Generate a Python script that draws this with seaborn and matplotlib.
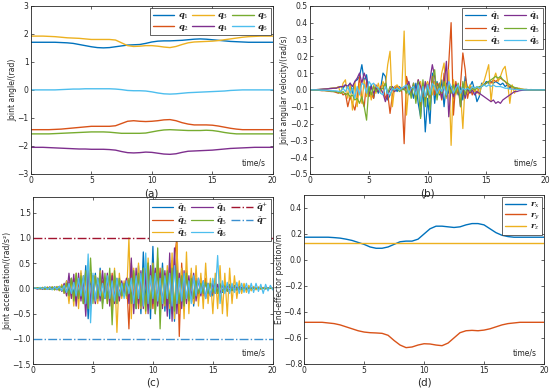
import numpy as np
import matplotlib
matplotlib.use('Agg')
import matplotlib.pyplot as plt
import seaborn as sns

# time axes
t_pos = np.arange(0, 20.01, 0.5)    # 41 samples, smooth curves
t_dyn = np.arange(0, 20.01, 0.2)    # 101 samples, velocity / acceleration

# (a) joint angles
q1 = [1.70,1.70,1.70,1.70,1.70,1.69,1.68, 1.66,1.62,1.58,1.54,1.51,1.50, 1.51,1.54,1.57,1.60,1.61,1.62,
      1.66,1.71,1.74,1.75,1.75,1.76, 1.77,1.79,1.81,1.82,1.81,1.79, 1.77,1.75,1.73,1.72,1.71, 1.70,1.70,1.70,1.70,1.70]
q2 = [-1.42,-1.42,-1.42,-1.42,-1.41,-1.40,-1.38, -1.36,-1.34,-1.32,-1.30,-1.30,-1.30, -1.30,-1.28,-1.20,-1.12,-1.10,-1.12,
      -1.13,-1.12,-1.10,-1.07,-1.06,-1.10, -1.17,-1.22,-1.25,-1.25,-1.25,-1.26, -1.29,-1.33,-1.37,-1.40,-1.42, -1.42,-1.42,-1.42,-1.42,-1.42]
q3 = [1.92,1.92,1.92,1.91,1.90,1.88,1.86, 1.85,1.84,1.82,1.80,1.80,1.80, 1.80,1.78,1.68,1.58,1.55,1.56,
      1.58,1.58,1.56,1.53,1.51,1.55, 1.62,1.68,1.71,1.72,1.73,1.74, 1.76,1.79,1.82,1.85,1.88, 1.90,1.91,1.92,1.92,1.92]
q4 = [-2.05,-2.05,-2.05,-2.06,-2.07,-2.08,-2.09, -2.10,-2.11,-2.11,-2.12,-2.12,-2.12, -2.13,-2.15,-2.20,-2.24,-2.25,-2.24,
      -2.22,-2.23,-2.26,-2.29,-2.30,-2.28, -2.23,-2.19,-2.18,-2.17,-2.16,-2.15, -2.13,-2.11,-2.09,-2.08,-2.07, -2.06,-2.05,-2.05,-2.05,-2.05]
q5 = [-1.57,-1.57,-1.57,-1.57,-1.56,-1.55,-1.54, -1.53,-1.52,-1.51,-1.50,-1.50,-1.50, -1.51,-1.53,-1.55,-1.55,-1.55,-1.55,
      -1.54,-1.50,-1.46,-1.43,-1.42,-1.43, -1.44,-1.45,-1.45,-1.45,-1.44,-1.45, -1.48,-1.52,-1.55,-1.57,-1.57, -1.57,-1.57,-1.57,-1.57,-1.57]
q6 = [0,0,0,0,0,0.01,0.02, 0.03,0.03,0.04,0.04,0.04,0.04, 0.04,0.03,0.01,-0.02,-0.03,-0.03,
      -0.04,-0.07,-0.11,-0.14,-0.15,-0.14, -0.12,-0.10,-0.09,-0.08,-0.07,-0.06, -0.05,-0.04,-0.02,-0.01,0.0, 0,0,0,0,0]

# (b) joint angular velocities
dq1 = [0, 0,0,0,0.002,0.003,0.005,0.005,0.008,0.01,0.01,
       0.012,0.015,0.02,0.01,0.03,0.02,0.04,-0.02,0.05,0.06,
       0.08,0.15,0.05,0.09,-0.02,0.03,-0.05,0.02,-0.02,0.01,
       0.1,0.08,-0.06,-0.03,0.0,0.02,-0.01,0.02,0.0,0.01,
       0.02,-0.03,0.01,-0.05,0.04,-0.08,-0.16,0.02,-0.25,-0.05,
       -0.2,0.1,-0.08,0.05,-0.03,0.06,-0.1,0.04,-0.02,0.02,
       -0.05,0.03,-0.03,0.02,-0.06,0.08,0.01,0.02,0.05,0.0,
       -0.07,-0.04,0.04,0.03,0.05,0.04,0.05,0.04,0.05,0.04,
       0.03,0.04,0.02,0.03,0.01,0.02,0.005,0.01,0.005,0.003,
       0.002,0.003,0.001,0.002,0.001,0.0,0.001,0.0,0.0,0.0]
dq2 = [0, 0,0,-0.002,-0.003,-0.005,-0.004,-0.006,-0.008,-0.01,-0.01,
       -0.015,-0.02,-0.01,-0.03,-0.02,-0.1,-0.04,-0.08,-0.12,-0.05,
       0.08,-0.06,-0.1,0.05,-0.04,-0.02,-0.05,0.03,-0.01,0.02,
       0.03,-0.05,-0.02,-0.14,-0.03,0.01,0.02,0.01,-0.01,-0.32,
       0.08,0.02,-0.02,0.03,-0.05,0.06,-0.1,0.04,-0.06,0.03,
       -0.05,0.08,-0.03,0.04,0.02,-0.06,0.1,-0.04,0.16,0.4,
       -0.15,0.05,-0.02,0.03,0.22,0.12,-0.05,0.02,-0.03,0.01,
       -0.02,0.01,0.02,0.03,0.04,0.05,0.04,0.06,0.05,0.06,
       0.07,0.06,0.05,0.03,0.02,0.02,0.01,0.01,0.005,0.003,
       0.002,0.001,0.001,0,0,0,0,0,0,0]
dq3 = [0, 0,0,0.002,0.003,0.004,0.005,0.006,0.008,0.01,0.012,
       0.01,0.02,-0.02,0.04,0.06,-0.05,0.03,-0.12,0.05,-0.1,
       0.04,-0.08,0.06,-0.04,0.02,-0.06,0.03,-0.02,0.04,-0.02,
       0.05,0.02,0.15,0.23,-0.1,0.02,0.03,0.01,0.0,0.35,
       -0.15,0.03,0.01,0.02,-0.03,0.02,0.05,-0.04,0.02,0.05,
       0.0,-0.03,0.05,0.02,-0.02,0.1,0.16,-0.05,0.12,-0.33,
       0.06,-0.03,0.02,-0.02,-0.23,0.05,-0.02,0.03,0.01,-0.01,
       0.02,-0.03,0.03,0.05,0.1,0.15,-0.07,0.06,0.1,0.05,
       0.08,0.12,0.14,0.05,-0.08,0.03,-0.02,0.01,0.01,0.005,
       0.003,0.002,0.001,0,0,0,0,0,0,0]
dq4 = [0, 0,0.001,0.002,0.003,0.004,0.005,0.006,0.007,0.008,0.01,
       0.01,0.015,0.02,0.02,0.03,0.02,0.04,0.02,0.05,0.07,
       0.1,0.04,0.1,0.06,-0.03,0.02,-0.02,0.01,-0.01,0.01,
       -0.02,-0.07,-0.03,0.0,0.02,-0.01,0.01,0.0,0.01,0.0,
       0.02,0.05,-0.02,0.04,-0.03,0.06,0.02,-0.04,0.05,-0.03,
       0.06,0.15,0.08,-0.03,0.04,-0.05,0.03,0.17,-0.16,0.02,
       -0.04,0.03,0.02,-0.1,0.02,-0.05,0.01,-0.02,0.0,-0.03,
       -0.01,-0.02,-0.03,-0.04,-0.05,-0.06,-0.07,-0.06,-0.08,-0.07,
       -0.08,-0.06,-0.05,-0.04,-0.03,-0.02,-0.01,-0.01,-0.005,-0.003,
       -0.002,-0.001,0,0,0,0,0,0,0,0]
dq5 = [0, 0,-0.001,-0.001,-0.002,-0.003,-0.004,-0.005,-0.006,-0.008,-0.01,
       -0.01,-0.015,-0.02,-0.01,-0.03,-0.02,-0.04,-0.03,-0.06,-0.05,
       -0.08,-0.04,-0.1,-0.18,0.02,-0.03,0.02,-0.01,0.01,0.0,
       0.01,0.04,-0.02,0.02,0.01,0.0,0.01,-0.01,0.0,0.01,
       -0.02,0.03,-0.05,0.04,-0.08,0.05,-0.17,0.06,-0.1,0.03,
       -0.12,0.05,0.12,-0.06,0.04,-0.02,0.05,-0.04,0.03,-0.02,
       0.03,-0.02,0.04,-0.1,0.05,-0.03,0.02,-0.01,0.01,0.0,
       0.01,0.02,0.02,0.03,0.04,0.05,0.06,0.07,0.08,0.07,
       0.08,0.06,0.05,0.04,0.03,0.02,0.015,0.01,0.005,0.003,
       0.002,0.001,0,0,0,0,0,0,0,0]
dq6 = [0, 0,0,0,-0.001,-0.002,-0.002,-0.003,-0.004,-0.005,-0.005,
       -0.006,-0.008,-0.01,0.01,-0.01,0.02,-0.02,0.01,-0.05,0.02,
       -0.03,0.04,0.03,-0.02,0.05,0.03,0.04,0.02,0.01,-0.02,
       -0.03,0.02,-0.02,-0.03,0.01,0.0,0.01,0.0,0.01,0.02,
       0.03,-0.02,0.01,0.02,-0.03,0.03,-0.07,0.02,-0.04,0.03,
       -0.03,0.04,0.02,-0.02,0.01,-0.01,0.02,-0.03,0.05,0.02,
       -0.02,0.01,0.03,-0.02,0.01,0.0,0.01,0.0,0.02,0.01,
       0.02,0.01,0.02,0.03,0.02,0.03,0.02,0.03,0.02,0.02,
       0.02,0.015,0.01,0.01,0.005,0.005,0.003,0.002,0.001,0.001,
       0,0,0,0,0,0,0,0,0,0]

# (c) joint accelerations
ddq1 = [0, 0,0.01,-0.01,0.02,-0.01,0.01,-0.02,0.02,-0.01,0.02,
        -0.03,0.05,-0.1,0.15,-0.1,0.2,-0.15,0.25,-0.2,0.3,
        -0.3,0.45,-0.6,0.2,-0.1,0.3,-0.25,0.4,-0.3,0.2,
        -0.2,0.3,-0.4,0.25,-0.3,0.2,-0.15,0.1,-0.1,0.15,
        -0.2,0.3,-0.4,0.45,-0.5,0.72,-0.3,0.5,-0.6,0.83,
        -0.5,0.4,-0.3,0.5,-0.45,0.3,-0.6,0.55,-0.65,0.6,
        -0.5,0.4,-0.3,0.35,-0.2,0.3,-0.35,0.2,-0.15,0.2,
        -0.1,0.15,-0.2,0.1,-0.15,0.2,-0.1,0.1,-0.08,0.1,
        -0.06,0.08,-0.05,0.06,-0.04,0.05,-0.03,0.04,-0.03,0.02,
        -0.02,0.02,-0.01,0.02,-0.01,0.01,-0.01,0.01,0,0]
ddq2 = [0, 0,-0.01,0.01,-0.01,0.02,-0.01,0.02,-0.02,0.03,-0.02,
        0.04,-0.05,0.08,-0.1,0.12,-0.15,0.2,-0.25,0.15,-0.2,
        0.25,-0.2,0.3,-0.35,0.25,-0.3,0.2,-0.15,0.15,-0.2,
        0.2,-0.25,0.3,-0.2,0.15,-0.1,0.1,-0.15,0.2,-0.8,
        0.5,-0.3,0.25,-0.4,0.3,-0.35,0.4,-0.3,0.3,-0.4,
        0.35,-0.3,0.4,-0.35,0.3,-0.4,0.5,-0.5,0.6,1.0,
        -0.95,0.5,-0.4,0.35,-0.3,0.25,-0.3,0.2,-0.2,0.15,
        -0.15,0.2,-0.15,0.1,-0.1,0.15,-0.1,0.08,-0.06,0.05,
        -0.05,0.04,-0.04,0.03,-0.03,0.02,-0.02,0.02,-0.01,0.01,
        -0.01,0.01,0,0,0,0,0,0,0,0]
ddq3 = [0, 0,0.01,-0.01,0.02,-0.02,0.03,-0.02,0.03,-0.03,0.04,
        -0.05,0.08,-0.1,0.15,-0.3,0.2,-0.35,0.3,-0.4,0.35,
        -0.3,0.2,-0.25,0.3,-0.2,0.25,-0.3,0.35,-0.25,0.2,
        -0.3,0.25,-0.5,0.4,-0.87,0.3,-0.2,0.15,-0.2,1.0,
        -0.6,0.4,-0.3,0.5,-0.4,0.3,-0.5,0.6,-0.4,0.5,
        -0.5,0.6,-0.4,0.3,-0.35,0.45,-0.4,0.7,-0.6,0.9,
        -0.5,0.4,-0.6,0.72,-0.5,0.4,-0.3,0.45,-0.35,0.3,
        -0.4,0.5,-0.3,0.2,-0.5,0.3,-0.4,0.45,-0.5,0.3,
        -0.55,0.4,-0.3,0.25,-0.2,0.15,-0.1,0.1,-0.08,0.06,
        -0.05,0.04,-0.03,0.03,-0.02,0.02,-0.01,0.01,0,0]
ddq4 = [0, 0,-0.01,0.01,-0.02,0.02,-0.02,0.03,-0.02,0.03,-0.03,
        0.04,-0.06,0.1,-0.15,0.3,-0.2,0.28,-0.35,0.3,-0.25,
        0.2,-0.55,0.35,-0.3,0.25,-0.3,0.2,-0.25,0.35,-0.2,
        0.3,-0.35,0.25,-0.3,0.2,-0.25,0.15,-0.1,0.2,-0.3,
        0.6,-0.5,0.4,-0.3,0.35,-0.4,0.3,-0.5,0.45,-0.3,
        0.4,-0.35,0.3,-0.4,0.35,-0.55,0.7,-0.65,0.8,-0.5,
        0.3,-0.4,0.35,-0.3,0.25,-0.2,0.3,-0.25,0.2,-0.15,
        0.15,-0.2,0.1,-0.15,0.1,-0.1,0.08,-0.1,0.06,-0.05,
        0.05,-0.04,0.04,-0.03,0.03,-0.02,0.02,-0.01,0.01,-0.01,
        0.01,0,0,0,0,0,0,0,0,0]
ddq5 = [0, 0,0.01,-0.01,0.01,-0.02,0.02,-0.02,0.03,-0.03,0.03,
        -0.04,0.05,-0.08,0.1,-0.15,0.2,-0.25,0.3,-0.2,0.25,
        -0.3,0.35,-0.4,0.6,-0.3,0.25,-0.2,0.3,-0.4,0.3,
        -0.3,0.4,-0.72,0.35,-0.3,0.2,-0.15,0.1,-0.15,0.2,
        -0.3,0.35,-0.4,0.3,-0.35,0.4,-0.45,0.5,-0.4,0.45,
        -0.5,0.8,-0.8,0.4,-0.3,0.35,-0.3,0.4,-0.45,0.35,
        -0.3,0.25,-0.35,0.3,-0.25,0.2,-0.2,0.15,-0.1,0.1,
        -0.1,0.12,-0.1,0.1,-0.08,0.1,-0.1,0.08,-0.06,0.05,
        -0.05,0.04,-0.04,0.03,-0.02,0.02,-0.02,0.01,-0.01,0.01,
        0,0,0,0,0,0,0,0,0,0]
ddq6 = [0, 0.01,-0.01,0.02,-0.01,0.03,-0.02,0.02,-0.03,0.03,-0.02,
        0.04,-0.05,0.06,-0.08,0.1,-0.1,0.12,-0.15,0.2,-0.15,
        0.25,-0.3,0.68,-0.68,0.3,-0.25,0.2,-0.15,0.1,-0.2,
        0.25,-0.2,0.15,-0.25,0.2,-0.15,0.1,-0.2,0.15,-0.1,
        0.2,-0.3,0.25,-0.2,0.3,-0.35,0.7,-0.3,0.25,-0.2,
        0.3,-0.25,0.2,-0.3,0.25,-0.2,0.3,-0.35,0.45,-0.3,
        0.2,-0.25,0.3,-0.2,0.15,-0.3,0.25,-0.15,0.2,-0.1,
        0.15,-0.2,0.1,-0.15,0.2,-0.1,0.65,-0.3,0.15,-0.1,
        0.12,-0.1,0.1,-0.08,0.12,-0.1,0.1,-0.08,0.1,-0.1,
        0.1,-0.08,0.1,-0.06,0.08,-0.1,0.08,-0.05,0.06,-0.03]
acc_limits = [1.0, -1.0]

# (d) end-effector position
rx = [0.175,0.175,0.175,0.175,0.175,0.172,0.168, 0.16,0.15,0.135,0.12,0.10,0.09, 0.09,0.10,0.12,0.14,0.145,0.145,
      0.16,0.20,0.24,0.26,0.26,0.255, 0.25,0.255,0.27,0.28,0.28,0.27, 0.24,0.21,0.19,0.18,0.175, 0.175,0.175,0.175,0.175,0.175]
ry = [-0.48,-0.48,-0.48,-0.48,-0.485,-0.49,-0.50, -0.515,-0.53,-0.545,-0.555,-0.56,-0.562, -0.565,-0.58,-0.62,-0.655,-0.675,-0.67,
      -0.655,-0.645,-0.647,-0.655,-0.66,-0.64, -0.60,-0.56,-0.545,-0.542,-0.545,-0.54, -0.53,-0.515,-0.50,-0.49,-0.485, -0.48,-0.48,-0.48,-0.48,-0.48]
rz = [0.133] * 41

colors = ['#0072BD', '#D95319', '#EDB120', '#7E2F8E', '#77AC30', '#4DBEEE']

sns.set_style('ticks')
plt.rcParams['font.family'] = ['DejaVu Sans']
plt.rcParams['mathtext.fontset'] = 'dejavuserif'
plt.rcParams['xtick.direction'] = 'in'
plt.rcParams['ytick.direction'] = 'in'
plt.rcParams['axes.edgecolor'] = '#262626'
plt.rcParams['axes.linewidth'] = 0.6

fig = plt.figure(figsize=(5.5, 3.9), dpi=100)
ax_a = fig.add_axes([0.056, 0.554, 0.440, 0.431])
ax_b = fig.add_axes([0.564, 0.554, 0.427, 0.431])
ax_c = fig.add_axes([0.060, 0.066, 0.436, 0.428])
ax_d = fig.add_axes([0.553, 0.067, 0.436, 0.433])

tick_fs = 5.5


def style(ax, ylim, yticks, ylabel, tag, tag_y):
    ax.set_xlim(0, 20)
    ax.set_ylim(*ylim)
    ax.set_xticks([0, 5, 10, 15, 20])
    ax.set_yticks(yticks)
    ax.tick_params(labelsize=tick_fs, length=2, width=0.5, top=True, right=True, pad=1.5)
    ax.set_ylabel(ylabel, fontsize=tick_fs, labelpad=0)
    ax.set_xlabel('')
    ax.text(0.97, 0.04, 'time/s', transform=ax.transAxes, ha='right', va='bottom', fontsize=tick_fs)
    pos = ax.get_position()
    fig.text(pos.x0 + pos.width / 2, tag_y, tag, ha='center', va='center', fontsize=7.5)


def legend(ax, ncol):
    leg = ax.legend(loc='upper right', ncol=ncol, fontsize=6, fancybox=False, framealpha=1,
                    edgecolor='#262626', borderpad=0.3, labelspacing=0.05, handlelength=2.6,
                    handletextpad=0.4, columnspacing=0.4, borderaxespad=0.25)
    leg.get_frame().set_linewidth(0.5)


# (a)
for i, (y, c) in enumerate(zip([q1, q2, q3, q4, q5, q6], colors)):
    sns.lineplot(x=t_pos, y=y, color=c, lw=1.0, ax=ax_a, label=rf'$\mathbfit{{q}}_{i+1}$')
style(ax_a, (-3, 3), range(-3, 4), 'Joint angle/(rad)', '(a)', 0.505)
legend(ax_a, 3)

# (b)
for i, (y, c) in enumerate(zip([dq1, dq2, dq3, dq4, dq5, dq6], colors)):
    sns.lineplot(x=t_dyn, y=y, color=c, lw=0.9, ax=ax_b, label=rf'$\dot{{\mathbfit{{q}}}}_{i+1}$')
style(ax_b, (-0.5, 0.5), np.arange(-0.5, 0.51, 0.1).round(1), 'Joint angular velocity/(rad/s)', '(b)', 0.505)
legend(ax_b, 2)

# (c)
for i, (y, c) in enumerate(zip([ddq1, ddq2, ddq3, ddq4, ddq5, ddq6], colors)):
    sns.lineplot(x=t_dyn, y=y, color=c, lw=0.9, ax=ax_c, label=rf'$\ddot{{\mathbfit{{q}}}}_{i+1}$')
ax_c.axhline(acc_limits[0], color='#A2142F', lw=1.0, ls='-.', label=r'$\ddot{\mathbfit{q}}^{+}$')
ax_c.axhline(acc_limits[1], color='#3A8FD0', lw=1.0, ls='-.', label=r'$\ddot{\mathbfit{q}}^{-}$')
style(ax_c, (-1.5, 1.8), [-1.5, -1, -0.5, 0, 0.5, 1, 1.5], 'Joint acceleration/(rad/s²)', '(c)', 0.02)
legend(ax_c, 3)

# (d)
for y, c, lab in zip([rx, ry, rz], colors[:3], [r'$\mathbfit{r}_x$', r'$\mathbfit{r}_y$', r'$\mathbfit{r}_z$']):
    sns.lineplot(x=t_pos, y=y, color=c, lw=1.0, ax=ax_d, label=lab)
style(ax_d, (-0.8, 0.5), [-0.8, -0.6, -0.4, -0.2, 0, 0.2, 0.4], 'End-effector position/m', '(d)', 0.02)
legend(ax_d, 1)

fig.savefig('out.png', dpi=100)
